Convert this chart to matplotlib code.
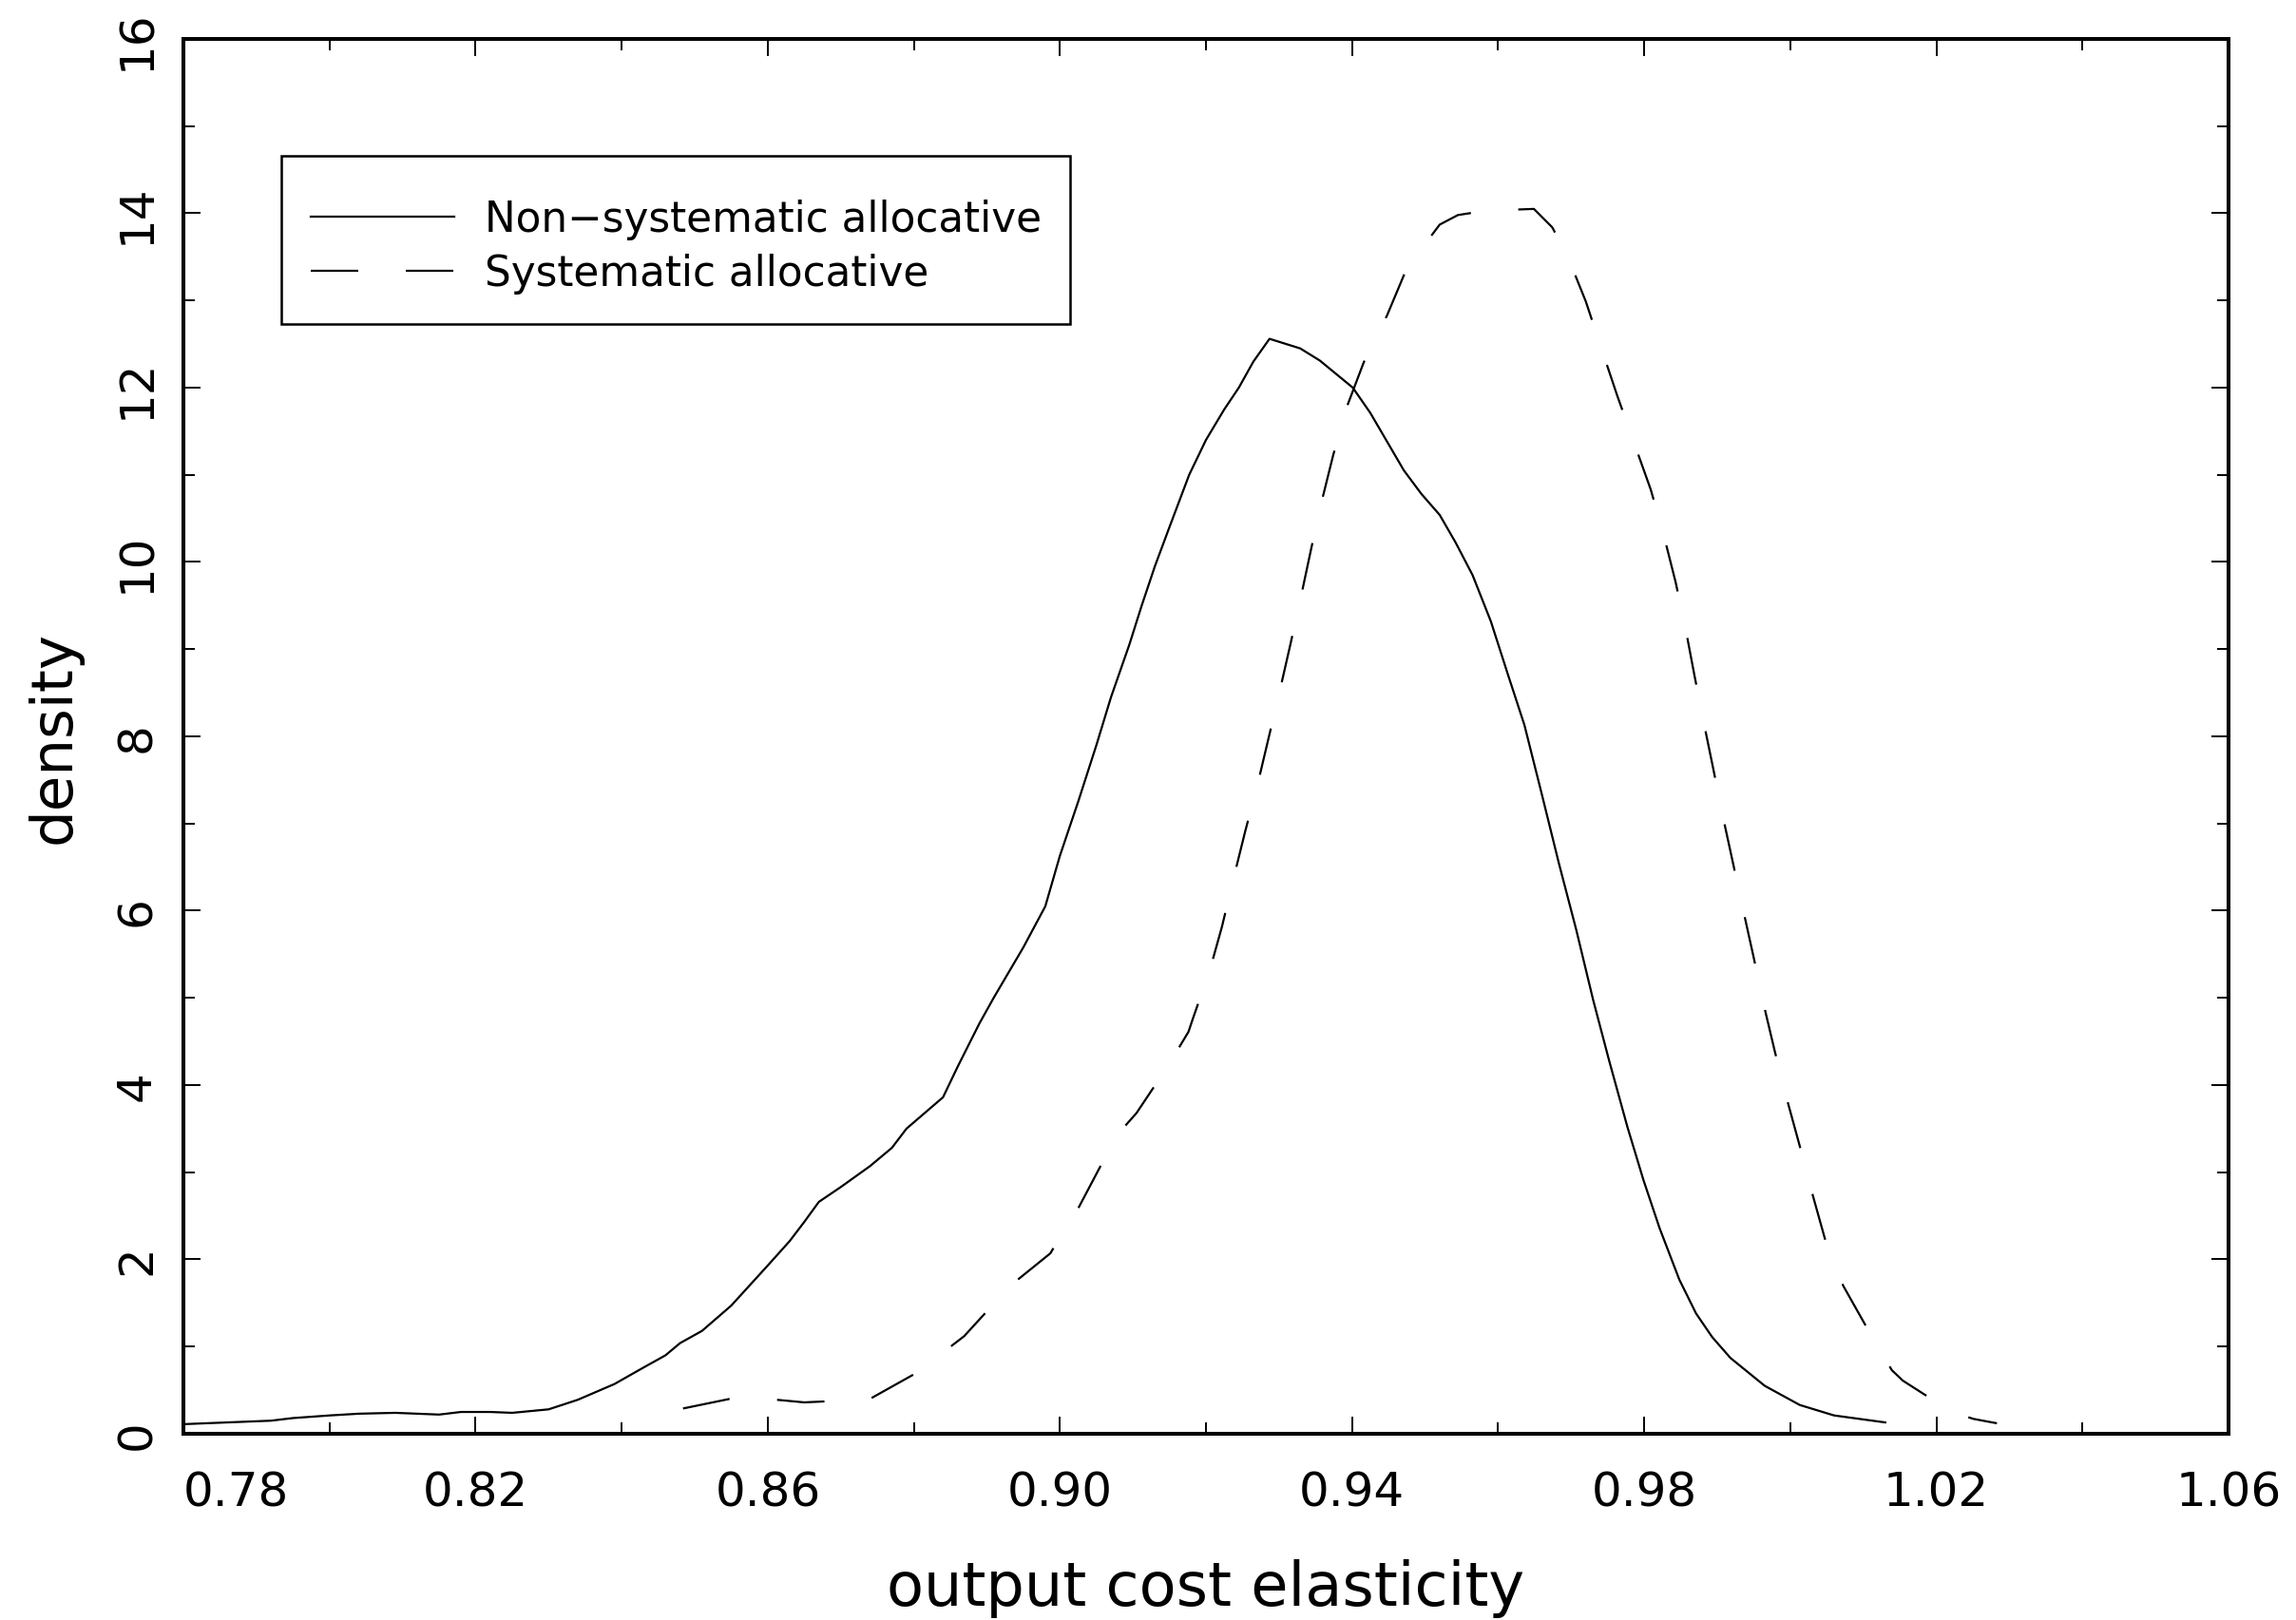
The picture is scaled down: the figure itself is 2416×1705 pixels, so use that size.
import matplotlib
matplotlib.use("Agg")
import matplotlib.pyplot as plt
from matplotlib.patches import Rectangle
from matplotlib.ticker import FixedLocator, MultipleLocator, FormatStrFormatter

plt.rcParams["font.family"] = ["DejaVu Sans"]
plt.rcParams["lines.scale_dashes"] = False

# Non-systematic allocative (solid)
nonsys_x = [0.780, 0.786, 0.792, 0.795, 0.800, 0.804, 0.809, 0.815, 0.818, 0.822,
            0.825, 0.830, 0.834, 0.839, 0.843, 0.846, 0.848, 0.851, 0.855, 0.860,
            0.863, 0.865, 0.867, 0.870, 0.874, 0.877, 0.879, 0.884, 0.886, 0.889,
            0.891, 0.895, 0.898, 0.900, 0.9025, 0.905, 0.907, 0.9095, 0.9112, 0.913,
            0.915, 0.9177, 0.920, 0.9225, 0.9245, 0.9265, 0.9287, 0.9329, 0.9356, 0.9401,
            0.9425, 0.9471, 0.9495, 0.952, 0.9542, 0.9565, 0.959, 0.9613, 0.9636, 0.966,
            0.9683, 0.9707, 0.973, 0.9752, 0.9777, 0.9799, 0.9821, 0.9848, 0.9871, 0.9893,
            0.9918, 0.9965, 1.0013, 1.006, 1.013]
nonsys_y = [0.11, 0.13, 0.15, 0.18, 0.21, 0.23, 0.24, 0.22, 0.25, 0.25,
            0.24, 0.28, 0.39, 0.57, 0.76, 0.90, 1.04, 1.18, 1.47, 1.93,
            2.21, 2.43, 2.66, 2.83, 3.07, 3.28, 3.50, 3.86, 4.21, 4.71,
            5.01, 5.58, 6.05, 6.63, 7.25, 7.90, 8.45, 9.05, 9.50, 9.95,
            10.40, 11.00, 11.40, 11.75, 12.00, 12.30, 12.56, 12.45, 12.31, 12.00,
            11.71, 11.05, 10.78, 10.54, 10.22, 9.85, 9.32, 8.72, 8.13, 7.33,
            6.55, 5.78, 4.98, 4.28, 3.52, 2.91, 2.36, 1.77, 1.38, 1.11,
            0.87, 0.55, 0.33, 0.21, 0.13]

# Systematic allocative (dashed)
sys_x = [0.8484, 0.8548, 0.8612, 0.865, 0.8676, 0.874, 0.8804, 0.8869, 0.8905, 0.8922,
         0.8987, 0.9012, 0.9026, 0.906, 0.9085, 0.9105, 0.9148, 0.9176, 0.9182, 0.9205,
         0.9222, 0.9238, 0.9254, 0.9271, 0.9286, 0.9301, 0.9316, 0.933, 0.9344, 0.9358,
         0.9374, 0.9392, 0.9416, 0.9448, 0.9475, 0.952, 0.9545, 0.9584, 0.9649, 0.9674,
         0.9694, 0.972, 0.9741, 0.9763, 0.9786, 0.9809, 0.9827, 0.9843, 0.9857, 0.9869,
         0.9882, 0.9895, 0.9908, 0.9922, 0.9936, 0.995, 0.9964, 0.9979, 0.9995, 1.0013,
         1.003, 1.0048, 1.0065, 1.0073, 1.011, 1.0139, 1.0154, 1.0221, 1.0251, 1.0283]
sys_y = [0.29, 0.40, 0.39, 0.36, 0.37, 0.40, 0.70, 1.12, 1.45, 1.63,
         2.07, 2.43, 2.60, 3.14, 3.49, 3.68, 4.22, 4.61, 4.76, 5.31,
         5.82, 6.38, 6.92, 7.46, 7.99, 8.52, 9.07, 9.60, 10.15, 10.68,
         11.22, 11.76, 12.29, 12.83, 13.37, 13.87, 13.98, 14.03, 14.05, 13.84,
         13.53, 12.99, 12.46, 11.91, 11.37, 10.83, 10.30, 9.77, 9.22, 8.69,
         8.14, 7.61, 7.07, 6.53, 5.99, 5.46, 4.91, 4.38, 3.85, 3.30,
         2.76, 2.22, 1.83, 1.69, 1.14, 0.73, 0.61, 0.25, 0.17, 0.12]

labels = ["Non\u2212systematic allocative", "Systematic allocative"]
x_major = [0.78, 0.82, 0.86, 0.90, 0.94, 0.98, 1.02, 1.06]
x_minor = [0.80, 0.84, 0.88, 0.92, 0.96, 1.00, 1.04]


def main():
    fig = plt.figure(figsize=(24.16, 17.06), dpi=100)
    ax = fig.add_axes([0.0799, 0.1149, 0.8907, 0.8605])

    ax.plot(nonsys_x, nonsys_y, color="black", lw=1.6, label=labels[0])
    ax.plot(sys_x, sys_y, color="black", lw=1.6, dashes=(36, 36), label=labels[1])

    ax.set_xlim(0.78, 1.06)
    ax.set_ylim(0, 16)
    ax.xaxis.set_major_locator(FixedLocator(x_major))
    ax.xaxis.set_minor_locator(FixedLocator(x_minor))
    ax.yaxis.set_major_locator(MultipleLocator(2))
    ax.yaxis.set_minor_locator(MultipleLocator(1))
    ax.xaxis.set_major_formatter(FormatStrFormatter("%.2f"))

    for sp in ax.spines.values():
        sp.set_linewidth(2.9)

    ax.tick_params(which="both", direction="in", top=True, right=True, width=1.4)
    ax.tick_params(which="major", length=13)
    ax.tick_params(which="minor", length=8.5)
    ax.tick_params(axis="x", labelsize=36, pad=27)
    ax.tick_params(axis="y", labelsize=36, pad=18, labelrotation=90)
    for lab in ax.get_yticklabels():
        lab.set_va("center")
    ax.get_xticklabels()[0].set_ha("left")

    ax.set_xlabel("output cost elasticity", fontsize=46, labelpad=33)
    ax.set_ylabel("density", fontsize=44, labelpad=24)

    # legend box drawn separately, entries placed inside it
    ax.add_patch(Rectangle((0.0479, 0.7956), 0.3856, 0.1206, transform=ax.transAxes,
                           fill=False, edgecolor="black", lw=1.8, zorder=5))
    ax.legend(loc="upper left", bbox_to_anchor=(0.0623, 0.8852),
              fontsize=31.5, handlelength=3.45, handletextpad=0.73,
              borderpad=0, borderaxespad=0, labelspacing=0.32, frameon=False)

    fig.savefig("out.png", dpi=100)


if __name__ == "__main__":
    main()
